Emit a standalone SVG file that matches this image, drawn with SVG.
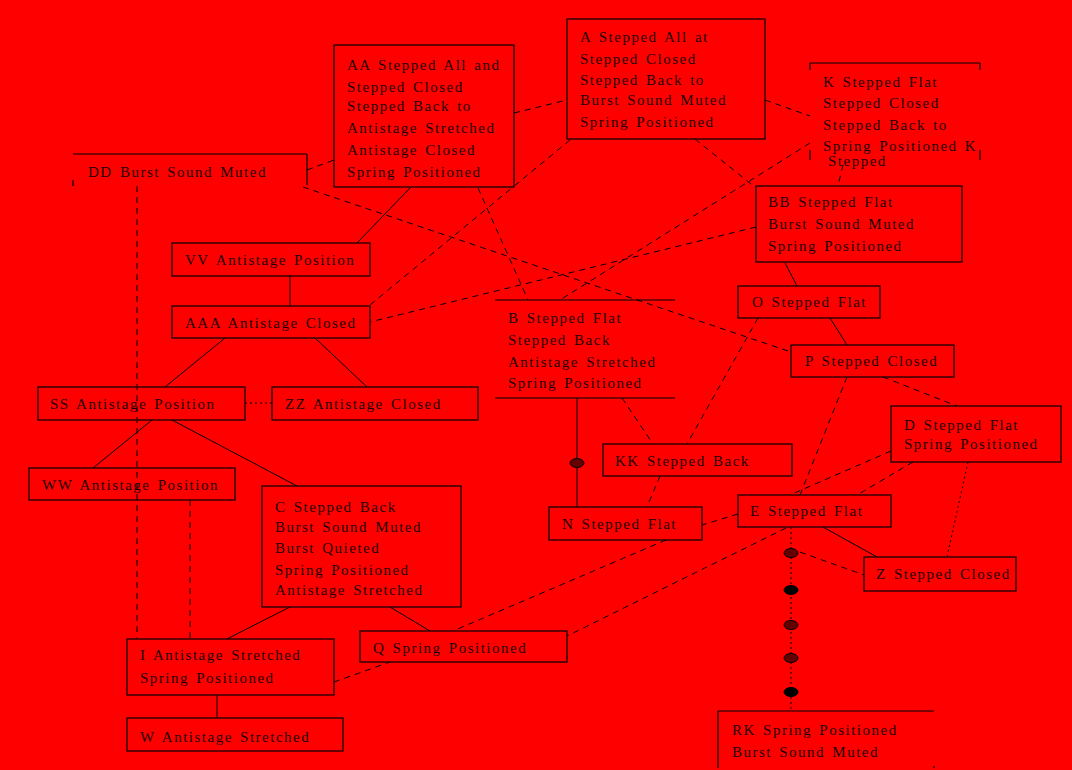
<svg xmlns="http://www.w3.org/2000/svg" width="1072" height="770" viewBox="0 0 1072 770">
<style>
.box{fill:none;stroke:#000;stroke-width:1.2}
.edge{fill:none;stroke:#000;stroke-width:1}
.solid{fill:none;stroke:#000;stroke-width:1}
.dash{stroke-dasharray:6 5}
.dot{stroke-dasharray:2 3}
text{font-family:"Liberation Serif","Times New Roman",serif;font-size:15px;letter-spacing:1.5px;word-spacing:2px;fill:#1a0000}
.mk{stroke:#000;stroke-width:1}
</style>
<rect x="0" y="0" width="1072" height="770" fill="#ff0000"/>
<g id="connectors">
<line class="edge dash" x1="307" y1="170" x2="334" y2="160"/>
<line class="edge dash" x1="514" y1="113" x2="567" y2="100"/>
<line class="edge dash" x1="765" y1="100" x2="810" y2="116"/>
<line class="edge dash" x1="695" y1="139" x2="756" y2="188"/>
<line class="edge dash" x1="843" y1="165" x2="838" y2="186"/>
<line class="solid" x1="410" y1="188" x2="357" y2="243"/>
<line class="edge dash" x1="478" y1="188" x2="528" y2="300"/>
<line class="edge dash" x1="570" y1="140" x2="370" y2="305"/>
<line class="edge dash" x1="810" y1="143" x2="560" y2="300"/>
<line class="edge dash" x1="756" y1="227" x2="370" y2="322"/>
<line class="edge dash" x1="303" y1="187" x2="791" y2="352"/>
<line class="solid" x1="785" y1="263" x2="797" y2="286"/>
<line class="solid" x1="830" y1="318" x2="847" y2="345"/>
<line class="solid" x1="290" y1="275" x2="290" y2="306"/>
<line class="solid" x1="225" y1="338" x2="165" y2="387"/>
<line class="solid" x1="315" y1="338" x2="367" y2="387"/>
<line class="edge dot" x1="245" y1="403" x2="272" y2="403"/>
<line class="solid" x1="152" y1="420" x2="93" y2="468"/>
<line class="solid" x1="172" y1="420" x2="297" y2="486"/>
<line class="edge dash" x1="137" y1="186" x2="137" y2="639"/>
<line class="edge dash" x1="190" y1="500" x2="190" y2="639"/>
<line class="solid" x1="290" y1="607" x2="227" y2="639"/>
<line class="solid" x1="390" y1="607" x2="430" y2="631"/>
<line class="edge dash" x1="334" y1="682" x2="390" y2="662"/>
<line class="solid" x1="217" y1="695" x2="217" y2="718"/>
<line class="solid" x1="577" y1="398" x2="577" y2="507"/>
<line class="edge dash" x1="622" y1="398" x2="653" y2="444"/>
<line class="edge dash" x1="758" y1="318" x2="687" y2="444"/>
<line class="edge dash" x1="660" y1="476" x2="647" y2="507"/>
<line class="edge dash" x1="666" y1="540" x2="453" y2="631"/>
<line class="edge dash" x1="738" y1="514" x2="702" y2="525"/>
<line class="edge dash" x1="786" y1="528" x2="567" y2="636"/>
<line class="edge dash" x1="847" y1="377" x2="800" y2="495"/>
<line class="edge dash" x1="883" y1="377" x2="957" y2="406"/>
<line class="edge dash" x1="891" y1="451" x2="790" y2="495"/>
<line class="edge dash" x1="913" y1="462" x2="857" y2="495"/>
<line class="edge dot" x1="968" y1="462" x2="947" y2="557"/>
<line class="solid" x1="823" y1="527" x2="877" y2="557"/>
<line class="edge dash" x1="800" y1="552" x2="864" y2="575"/>
<line class="edge dot" x1="791" y1="527" x2="791" y2="711"/>
</g>
<g id="markers">
<ellipse class="mk" cx="577" cy="463" rx="7" ry="4.5" fill="#600"/>
<ellipse class="mk" cx="791" cy="553" rx="7" ry="4.5" fill="#600"/>
<ellipse class="mk" cx="791" cy="590" rx="7" ry="4.5" fill="#000"/>
<ellipse class="mk" cx="791" cy="625" rx="7" ry="4.5" fill="#600"/>
<ellipse class="mk" cx="791" cy="658" rx="7" ry="4.5" fill="#600"/>
<ellipse class="mk" cx="791" cy="692" rx="7" ry="4.5" fill="#000"/>
</g>
<g id="node-AA">
<rect class="box" x="334" y="45" width="180" height="142"/>
<text x="347" y="70">AA Stepped All and</text>
<text x="347" y="92">Stepped Closed</text>
<text x="347" y="111">Stepped Back to</text>
<text x="347" y="133">Antistage Stretched</text>
<text x="347" y="155">Antistage Closed</text>
<text x="347" y="177">Spring Positioned</text>
</g>
<g id="node-A">
<rect class="box" x="567" y="19" width="198" height="120"/>
<text x="580" y="42">A Stepped All at</text>
<text x="580" y="64">Stepped Closed</text>
<text x="580" y="85">Stepped Back to</text>
<text x="580" y="105">Burst Sound Muted</text>
<text x="580" y="127">Spring Positioned</text>
</g>
<g id="node-K">
<path class="box" d="M810 63 H980 M810 63 V70 M980 63 V70 M810 150 V160 M980 150 V160"/>
<text x="823" y="87">K Stepped Flat</text>
<text x="823" y="108">Stepped Closed</text>
<text x="823" y="130">Stepped Back to</text>
<text x="823" y="151">Spring Positioned K</text>
<text x="828" y="166">Stepped</text>
</g>
<g id="node-BB">
<rect class="box" x="756" y="186" width="206" height="76"/>
<text x="768" y="207">BB Stepped Flat</text>
<text x="768" y="229">Burst Sound Muted</text>
<text x="768" y="251">Spring Positioned</text>
</g>
<g id="node-DD">
<path class="box" d="M73 154 H307 M307 154 V185 M73 180 V186"/>
<text x="88" y="177">DD Burst Sound Muted</text>
</g>
<g id="node-VV">
<rect class="box" x="172" y="243" width="198" height="33"/>
<text x="185" y="265">VV Antistage Position</text>
</g>
<g id="node-AAA">
<rect class="box" x="172" y="306" width="198" height="32"/>
<text x="185" y="328">AAA Antistage Closed</text>
</g>
<g id="node-SS">
<rect class="box" x="38" y="387" width="207" height="33"/>
<text x="50" y="409">SS Antistage Position</text>
</g>
<g id="node-ZZ">
<rect class="box" x="272" y="387" width="206" height="33"/>
<text x="285" y="409">ZZ Antistage Closed</text>
</g>
<g id="node-WW">
<rect class="box" x="29" y="468" width="206" height="32"/>
<text x="42" y="490">WW Antistage Position</text>
</g>
<g id="node-C">
<rect class="box" x="262" y="486" width="199" height="121"/>
<text x="275" y="512">C Stepped Back</text>
<text x="275" y="532">Burst Sound Muted</text>
<text x="275" y="553">Burst Quieted</text>
<text x="275" y="575">Spring Positioned</text>
<text x="275" y="595">Antistage Stretched</text>
</g>
<g id="node-B">
<path class="box" d="M495 300 H675 M495 398 H675"/>
<text x="508" y="323">B Stepped Flat</text>
<text x="508" y="345">Stepped Back</text>
<text x="508" y="367">Antistage Stretched</text>
<text x="508" y="388">Spring Positioned</text>
</g>
<g id="node-KK">
<rect class="box" x="603" y="444" width="189" height="32"/>
<text x="615" y="466">KK Stepped Back</text>
</g>
<g id="node-N">
<rect class="box" x="549" y="507" width="153" height="33"/>
<text x="562" y="529">N Stepped Flat</text>
</g>
<g id="node-O">
<rect class="box" x="738" y="286" width="142" height="32"/>
<text x="752" y="307">O Stepped Flat</text>
</g>
<g id="node-P">
<rect class="box" x="791" y="345" width="163" height="32"/>
<text x="805" y="366">P Stepped Closed</text>
</g>
<g id="node-D">
<rect class="box" x="891" y="406" width="170" height="56"/>
<text x="904" y="430">D Stepped Flat</text>
<text x="904" y="449">Spring Positioned</text>
</g>
<g id="node-E">
<rect class="box" x="738" y="495" width="153" height="32"/>
<text x="750" y="516">E Stepped Flat</text>
</g>
<g id="node-Z">
<rect class="box" x="864" y="557" width="152" height="34"/>
<text x="876" y="579">Z Stepped Closed</text>
</g>
<g id="node-I">
<rect class="box" x="127" y="639" width="207" height="56"/>
<text x="140" y="660">I Antistage Stretched</text>
<text x="140" y="683">Spring Positioned</text>
</g>
<g id="node-Q">
<rect class="box" x="360" y="631" width="207" height="31"/>
<text x="373" y="653">Q Spring Positioned</text>
</g>
<g id="node-W">
<rect class="box" x="127" y="718" width="216" height="33"/>
<text x="140" y="742">W Antistage Stretched</text>
</g>
<g id="node-RK">
<path class="box" d="M718 711 H934 M718 711 V768 M934 766 V768"/>
<text x="732" y="735">RK Spring Positioned</text>
<text x="732" y="757">Burst Sound Muted</text>
</g>
</svg>
